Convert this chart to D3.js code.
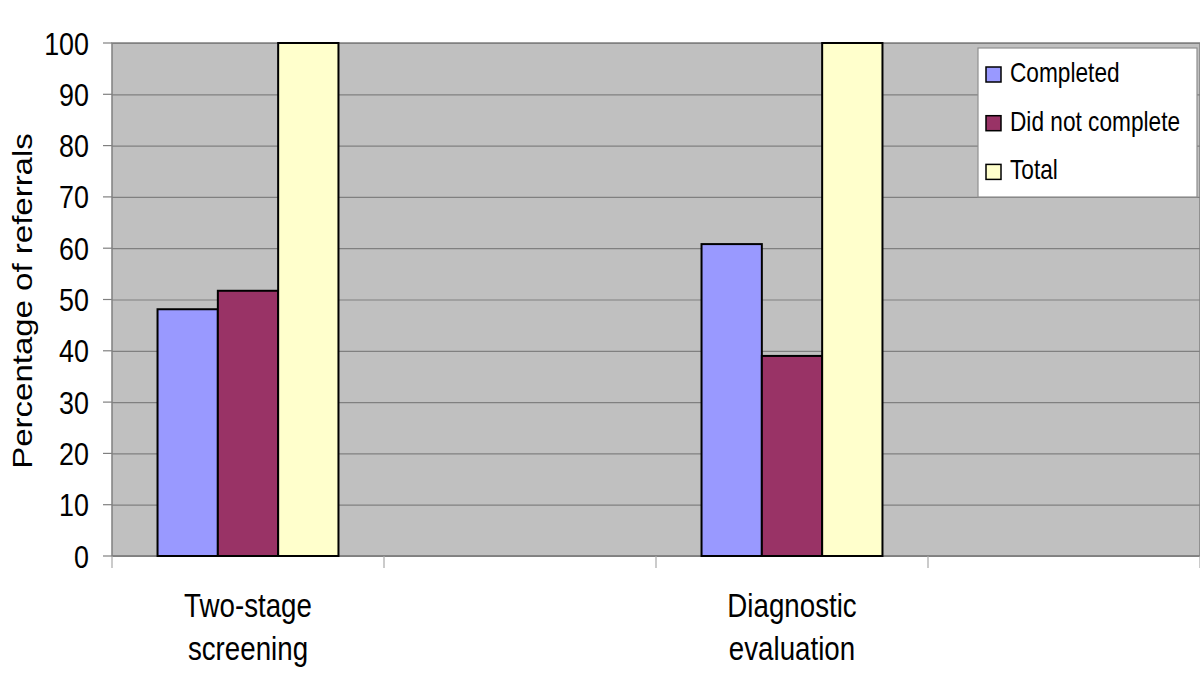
<!DOCTYPE html>
<html>
<head>
<meta charset="utf-8">
<script src="https://cdn.jsdelivr.net/npm/d3@7"></script>
<style>
  body { margin: 0; background: #fff; }
  text { font-family: Arial, 'Liberation Sans', sans-serif; fill: #000; }
</style>
</head>
<body>
<svg id="chart" width="1200" height="682"></svg>
<script>
// Chart data
const categories = [['Two-stage', 'screening'], [], ['Diagnostic', 'evaluation'], []]
const seriesNames = ['Completed', 'Did not complete', 'Total']
const completed = [48.1, null, 60.8, null]
const didNotComplete = [51.7, null, 39.0, null]
const total = [100, null, 100, null]
const yTicks = [0, 10, 20, 30, 40, 50, 60, 70, 80, 90, 100]

const colors = ['#9999FF', '#993366', '#FFFFCC']
const series = [completed, didNotComplete, total]
const squish = 0.84 // text in the picture is narrowed horizontally

const plot = { left: 112, right: 1200, top: 43, bottom: 556 }
const svg = d3.select('#chart')

const y = d3.scaleLinear().domain([0, 100]).range([plot.bottom, plot.top])
const x0 = d3.scaleBand().domain(d3.range(categories.length)).range([plot.left, plot.right])
const x1 = d3.scaleBand().domain(d3.range(seriesNames.length)).range([0, x0.bandwidth()]).paddingOuter(0.755)

// plot background
svg.append('rect')
  .attr('x', plot.left).attr('y', plot.top)
  .attr('width', plot.right - plot.left).attr('height', plot.bottom - plot.top)
  .attr('fill', '#C0C0C0').attr('stroke', '#808080').attr('stroke-width', 1.5)

// gridlines + left ticks
svg.append('g')
  .attr('transform', `translate(${plot.left},0)`)
  .call(d3.axisLeft(y).tickValues(yTicks).tickSizeInner(-(plot.right - plot.left)).tickSizeOuter(0).tickFormat(''))
  .call((g) => g.select('.domain').remove())
  .call((g) => g.selectAll('line').attr('stroke', '#808080').attr('stroke-width', 1.2))
svg.append('g')
  .selectAll('line')
  .data(yTicks)
  .enter()
  .append('line')
  .attr('x1', plot.left - 9).attr('x2', plot.left)
  .attr('y1', (d) => y(d)).attr('y2', (d) => y(d))
  .attr('stroke', '#808080').attr('stroke-width', 1.2)

// y tick labels
svg.append('g')
  .selectAll('text')
  .data(yTicks)
  .enter()
  .append('text')
  .attr('transform', (d) => `translate(89,${y(d) + 11.5}) scale(${squish},1)`)
  .attr('text-anchor', 'end')
  .style('font-size', '32px')
  .text((d) => d)

// y title
svg.append('text')
  .attr('transform', `translate(22,301) scale(${squish},1) rotate(-90)`)
  .attr('text-anchor', 'middle')
  .attr('dy', '0.36em')
  .style('font-size', '33px')
  .text('Percentage of referrals')

// bottom axis line and category ticks
svg.append('line')
  .attr('x1', plot.left).attr('x2', plot.right)
  .attr('y1', plot.bottom).attr('y2', plot.bottom)
  .attr('stroke', '#808080').attr('stroke-width', 1.5)
const bounds = d3.range(categories.length).map((i) => x0(i)).concat([plot.right])
svg.append('g')
  .selectAll('line')
  .data(bounds)
  .enter()
  .append('line')
  .attr('x1', (d) => d).attr('x2', (d) => d)
  .attr('y1', plot.bottom).attr('y2', plot.bottom + 12)
  .attr('stroke', '#A8A8A8').attr('stroke-width', 1.2)

// bars
const groups = svg.append('g')
  .selectAll('g')
  .data(series)
  .enter()
  .append('g')
  .attr('fill', (d, i) => colors[i])
groups.each(function (values, s) {
  d3.select(this)
    .selectAll('rect')
    .data(values.map((v, i) => ({ v, i })).filter((d) => d.v != null))
    .enter()
    .append('rect')
    .attr('x', (d) => x0(d.i) + x1(s))
    .attr('y', (d) => y(d.v))
    .attr('width', x1.bandwidth())
    .attr('height', (d) => y(0) - y(d.v))
    .attr('stroke', '#000')
    .attr('stroke-width', 2)
})

// category labels
categories.forEach((lines, i) => {
  lines.forEach((line, j) => {
    svg.append('text')
      .attr('transform', `translate(${x0(i) + x0.bandwidth() / 2},${617 + j * 43}) scale(${squish},1)`)
      .attr('text-anchor', 'middle')
      .style('font-size', '33px')
      .text(line)
  })
})

// legend
const legend = svg.append('g').attr('transform', 'translate(978,48)')
legend.append('rect')
  .attr('width', 219).attr('height', 149)
  .attr('fill', '#fff').attr('stroke', '#909090').attr('stroke-width', 1.2)
const items = legend.selectAll('g.item')
  .data(seriesNames)
  .enter()
  .append('g')
  .attr('class', 'item')
  .attr('transform', (d, i) => `translate(0,${i * 48.7})`)
items.append('rect')
  .attr('x', 8).attr('y', 19)
  .attr('width', 15).attr('height', 15)
  .attr('fill', (d, i) => colors[i])
  .attr('stroke', '#000').attr('stroke-width', 1.5)
items.append('text')
  .attr('transform', `translate(32,34) scale(${squish},1)`)
  .style('font-size', '27px')
  .text((d) => d)
</script>
</body>
</html>
